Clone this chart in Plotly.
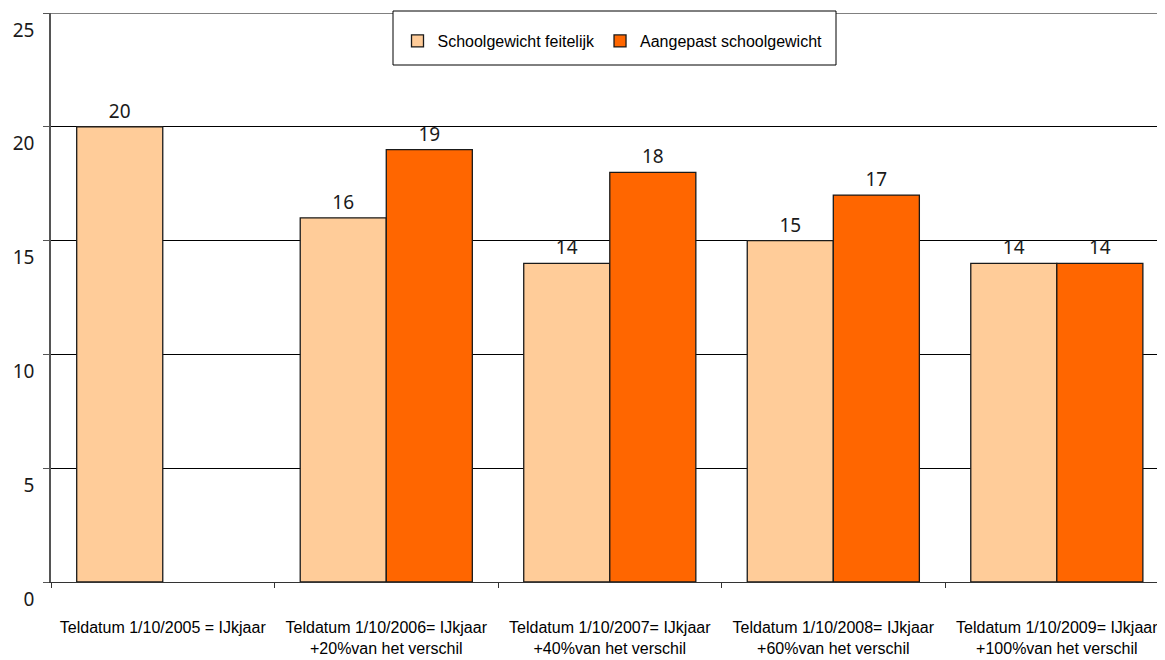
import plotly.graph_objects as go

# Data
categories = [
    "Teldatum 1/10/2005 = IJkjaar",
    "Teldatum 1/10/2006= IJkjaar<br>+20%van het verschil",
    "Teldatum 1/10/2007= IJkjaar<br>+40%van het verschil",
    "Teldatum 1/10/2008= IJkjaar<br>+60%van het verschil",
    "Teldatum 1/10/2009= IJkjaar<br>+100%van het verschil",
]
feitelijk = [20, 16, 14, 15, 14]
aangepast = [None, 19, 18, 17, 14]
y_ticks = [0, 5, 10, 15, 20, 25]

# page body has an 8px margin, so work in screen pixels minus that offset
OFF = 8
W, H = 1165 - OFF, 660 - OFF
ML, MT = 51 - OFF, 13 - OFF
MR = 0
MB = H - (582 - OFF)
plot_w = W - ML - MR
plot_h = H - MT - MB

num_font = dict(family="Noto Sans, DejaVu Sans, sans-serif", size=19, color="#1a1a1a")
leg_font = dict(family="Liberation Sans, Arial, sans-serif", size=16, color="#000000")
xlab_font = dict(family="Liberation Sans, Arial, sans-serif", size=16, color="#000000")

fig = go.Figure()
fig.add_trace(go.Bar(
    x=categories, y=feitelijk, name="Schoolgewicht feitelijk",
    marker=dict(color="#FFCC99", line=dict(color="#1a1a1a", width=1.3)),
    texttemplate="%{y}", textposition="outside", textfont=num_font,
    cliponaxis=False,
))
fig.add_trace(go.Bar(
    x=categories, y=aangepast, name="Aangepast schoolgewicht",
    marker=dict(color="#FF6600", line=dict(color="#1a1a1a", width=1.3)),
    texttemplate="%{y}", textposition="outside", textfont=num_font,
    cliponaxis=False,
))

# screen pixel -> paper helpers
def px_x(p):
    return (p - OFF - ML) / plot_w

def px_y(p):
    return 1 - (p - OFF - MT) / plot_h

# legend box
fig.add_shape(type="rect", xref="paper", yref="paper",
              x0=px_x(393), x1=px_x(836), y0=px_y(65), y1=px_y(11),
              line=dict(color="#000000", width=1), fillcolor="white", layer="above")
# top border of plot
fig.add_shape(type="line", xref="paper", yref="y", x0=0, x1=1, y0=25, y1=25,
              line=dict(color="#808080", width=2), layer="below")

fig.update_layout(
    width=W, height=H,
    margin=dict(l=ML, r=MR, t=MT, b=MB, autoexpand=False),
    paper_bgcolor="white", plot_bgcolor="white",
    barmode="group", bargap=0.23, bargroupgap=0,
    showlegend=True,
    legend=dict(orientation="h", x=px_x(397.5), xanchor="left",
                y=px_y(41), yanchor="middle", font=leg_font,
                bgcolor="rgba(0,0,0,0)", borderwidth=0),
    xaxis=dict(
        type="category", range=[-0.5, 4.484], automargin=False,
        showline=True, linecolor="#333333", linewidth=1,
        ticks="outside", tickson="boundaries", ticklen=5, tickcolor="#333333",
        showgrid=False, tickfont=xlab_font, ticklabelstandoff=31,
    ),
    yaxis=dict(
        range=[0, 25], tickvals=y_ticks, showline=True, linecolor="#555555",
        linewidth=1.5, ticks="outside", ticklen=6, tickcolor="#555555",
        showgrid=True, gridcolor="#000000", gridwidth=1, zeroline=False,
        automargin=False,
        tickfont=num_font, ticklabelshift=17, ticklabelstandoff=5,
        ticklabeloverflow="allow",
    ),
)

fig.write_html("out.html")
